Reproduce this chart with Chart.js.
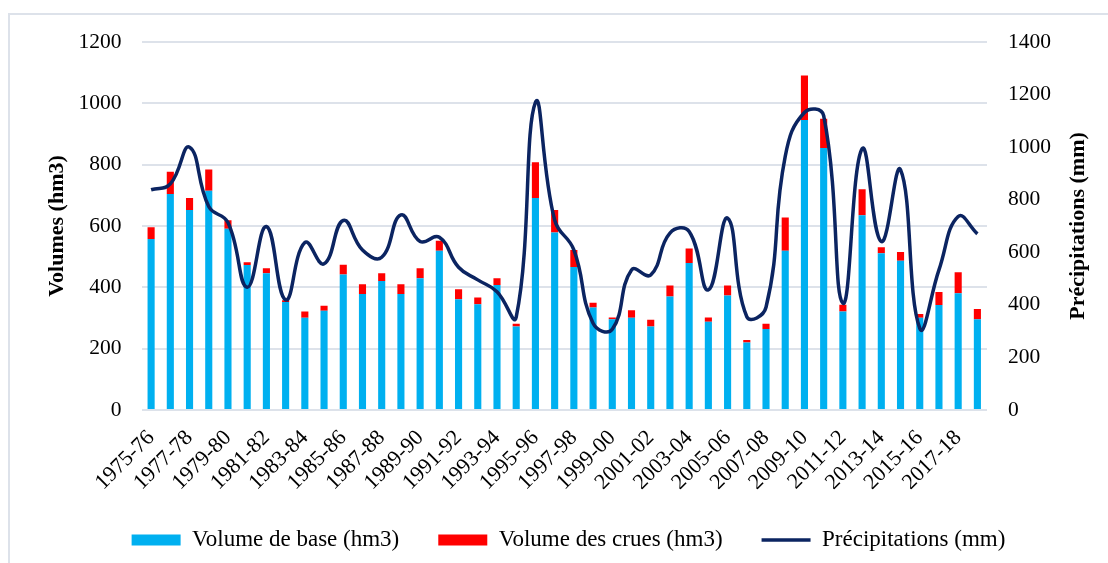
<!DOCTYPE html>
<html lang="fr">
<head>
<meta charset="utf-8">
<title>Volumes et précipitations</title>
<script src="https://cdn.jsdelivr.net/npm/chart.js@4/dist/chart.umd.min.js"></script>
<style>
    html, body { margin: 0; padding: 0; background: #ffffff; }
    #wrap { position: relative; width: 1108px; height: 563px; overflow: hidden; }
    #cadre {
        position: absolute; left: 8px; top: 13px; width: 1200px; height: 700px;
        border: 2px solid #dde2ea; box-sizing: border-box;
    }
    #graphe { position: absolute; left: 0; top: 0; }
</style>
</head>
<body>
<div id="wrap">
    <div id="cadre"></div>
    <canvas id="graphe" width="1108" height="563"></canvas>
</div>
<script>
// Années hydrologiques
const saisons = [
    '1975-76', '1976-77', '1977-78', '1978-79', '1979-80', '1980-81', '1981-82', '1982-83',
    '1983-84', '1984-85', '1985-86', '1986-87', '1987-88', '1988-89', '1989-90', '1990-91',
    '1991-92', '1992-93', '1993-94', '1994-95', '1995-96', '1996-97', '1997-98', '1998-99',
    '1999-00', '2000-01', '2001-02', '2002-03', '2003-04', '2004-05', '2005-06', '2006-07',
    '2007-08', '2008-09', '2009-10', '2010-11', '2011-12', '2012-13', '2013-14', '2014-15',
    '2015-16', '2016-17', '2017-18', '2018-19'
];

// Volume de base (hm3)
const volumeBase = [
    558, 704, 652, 715, 591, 473, 446, 352, 301, 324, 442, 378, 421, 378, 430, 519,
    361, 345, 408, 272, 691, 579, 466, 334, 296, 301, 272, 370, 479, 288, 373, 220,
    264, 519, 946, 854, 321, 635, 511, 487, 301, 342, 381, 296
];

// Volume des crues (hm3)
const volumeCrues = [
    38, 73, 39, 69, 28, 9, 16, 6, 20, 16, 32, 32, 25, 32, 32, 33,
    33, 22, 22, 9, 117, 73, 56, 16, 6, 24, 22, 36, 48, 14, 33, 8,
    17, 109, 145, 96, 22, 85, 20, 28, 12, 43, 68, 33
];

// Précipitations (mm)
const precipitations = [
    838, 860, 1000, 774, 713, 467, 698, 419, 637, 556, 721, 609, 581, 742, 641, 657,
    543, 495, 450, 353, 1170, 723, 609, 330, 307, 533, 514, 673, 679, 457, 730, 355,
    391, 965, 1132, 1120, 406, 994, 641, 914, 311, 533, 736, 670
];

const graduationsGauche = [0, 200, 400, 600, 800, 1000, 1200];
const graduationsDroite = [0, 200, 400, 600, 800, 1000, 1200, 1400];

const titreDroite = 'Précipitations (mm)';

const police = '"Liberation Serif", "Times New Roman", serif';
const grille = '#dde2ea';

// Titre de l'axe droit, écrit de bas en haut comme celui de gauche
const titreAxeDroit = {
    id: 'titreAxeDroit',
    afterDraw(c) {
        const axe = c.scales.y1;
        const g = c.ctx;
        g.save();
        g.translate(axe.right - 30, (axe.top + axe.bottom) / 2);
        g.rotate(-Math.PI / 2);
        g.textAlign = 'center';
        g.textBaseline = 'middle';
        g.fillStyle = '#000000';
        g.font = 'bold 22px ' + police;
        g.fillText(titreDroite, 0, 0);
        g.restore();
    }
};

const ctx = document.getElementById('graphe').getContext('2d');

const chart = new Chart(ctx, {
    type: 'bar',
    data: {
        labels: saisons,
        datasets: [
            {
                label: 'Volume de base (hm3)',
                data: volumeBase,
                backgroundColor: '#00b0f0',
                stack: 'volumes',
                yAxisID: 'y',
                barPercentage: 0.37,
                categoryPercentage: 1,
                order: 1
            },
            {
                label: 'Volume des crues (hm3)',
                data: volumeCrues,
                backgroundColor: '#ff0000',
                stack: 'volumes',
                yAxisID: 'y',
                barPercentage: 0.37,
                categoryPercentage: 1,
                order: 1
            },
            {
                type: 'line',
                label: titreDroite,
                data: precipitations,
                borderColor: '#0b2461',
                backgroundColor: '#0b2461',
                borderWidth: 3.5,
                pointRadius: 0,
                tension: 0.45,
                fill: false,
                yAxisID: 'y1',
                order: 0
            }
        ]
    },
    options: {
        responsive: false,
        animation: false,
        layout: {
            padding: { left: 29, right: 0, top: 42, bottom: 1.5 }
        },
        scales: {
            x: {
                stacked: true,
                grid: { display: false, drawTicks: false },
                border: { display: false },
                ticks: {
                    autoSkip: false,
                    minRotation: 45,
                    maxRotation: 45,
                    padding: 15,
                    color: '#000000',
                    font: { family: police, size: 22 },
                    callback: function (valeur, index) {
                        return index % 2 === 0 ? saisons[index] : '';
                    }
                },
                afterFit: function (scale) { scale.height = 79.5; }
            },
            y: {
                stacked: true,
                position: 'left',
                min: 0,
                max: 1200,
                afterBuildTicks: function (scale) {
                    scale.ticks = graduationsGauche.map(v => ({ value: v }));
                },
                grid: { color: grille, lineWidth: 2, drawTicks: false },
                border: { display: false },
                ticks: {
                    padding: 20,
                    color: '#000000',
                    font: { family: police, size: 21.5 },
                    callback: v => String(v)
                },
                title: {
                    display: true,
                    text: 'Volumes (hm3)',
                    color: '#000000',
                    font: { family: police, size: 22, weight: 'bold' },
                    padding: { top: 15, bottom: 0 }
                },
                afterFit: function (scale) { scale.width = 112.5; }
            },
            y1: {
                position: 'right',
                min: 0,
                max: 1400,
                afterBuildTicks: function (scale) {
                    scale.ticks = graduationsDroite.map(v => ({ value: v }));
                },
                grid: { display: false, drawTicks: false },
                border: { display: false },
                ticks: {
                    padding: 21,
                    color: '#000000',
                    font: { family: police, size: 21.5 },
                    callback: v => String(v)
                },
                afterFit: function (scale) { scale.width = 121; }
            }
        },
        plugins: {
            tooltip: { enabled: false },
            legend: {
                position: 'bottom',
                labels: {
                    usePointStyle: true,
                    pointStyleWidth: 49,
                    boxHeight: 11,
                    padding: 39,
                    color: '#000000',
                    font: { family: police, size: 23 },
                    // barres en rectangle, courbe en trait, dans l'ordre des séries
                    generateLabels: function (c) {
                        const items = Chart.defaults.plugins.legend.labels.generateLabels(c);
                        items.sort((a, b) => a.datasetIndex - b.datasetIndex);
                        items.forEach(item => {
                            if (item.datasetIndex === 2) {
                                item.pointStyle = 'line';
                                item.lineWidth = 3.5;
                                item.strokeStyle = '#0b2461';
                            } else {
                                item.pointStyle = 'rect';
                                item.lineWidth = 0;
                            }
                        });
                        return items;
                    }
                }
            }
        }
    },
    plugins: [titreAxeDroit]
});
</script>
</body>
</html>
